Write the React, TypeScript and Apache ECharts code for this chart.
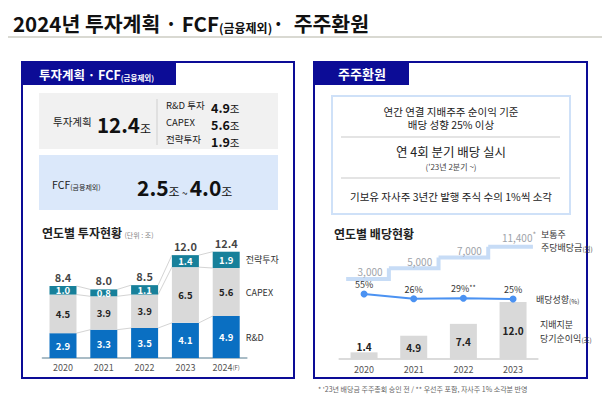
import React, { useEffect, useRef } from 'react';
import * as echarts from 'echarts';

// ---------- data ----------
const invYears = ['2020', '2021', '2022', '2023', '2024'];
const invYearSuffix = ['', '', '', '', '(F)'];
const seriesNames = ['R&D', 'CAPEX', '전략투자'];
const rdValues = [2.9, 3.3, 3.5, 4.1, 4.9];
const capexValues = [4.5, 3.9, 3.9, 6.5, 5.6];
const strategicValues = [1.0, 0.8, 1.1, 1.4, 1.9];
const invTotals = [8.4, 8.0, 8.5, 12.0, 12.4];

const divYears = ['2020', '2021', '2022', '2023'];
const netIncome = [1.4, 4.9, 7.4, 12.0];
const payoutRatio = [55, 26, 29, 25];
const payoutNotes = ['', '', '**', ''];
const dpsLevels = ['3,000', '5,000', '7,000', '11,400'];
const dpsValues = ['3,000', '5,000', '7,000', '11,400'];
const dpsNotes = ['', '', '', '*'];

const FONT = '"Noto Sans CJK KR", "Noto Sans", sans-serif';
const NAVY = '#0c0c96';
const BLUE = '#0a6fc2';
const GRAY = '#d9d9d9';
const TEAL = '#17809a';

function txt(x: number, y: number, text: string, style: any = {}) {
  const align = style.align || 'left';
  const va = style.verticalAlign || 'middle';
  return {
    type: 'text',
    x,
    y,
    z: 10,
    style: {
      text,
      fill: '#222',
      fontSize: 11,
      fontFamily: FONT,
      ...style,
      align,
      textAlign: align,
      verticalAlign: va,
      textVerticalAlign: va,
    },
  };
}

function hline(x1: number, x2: number, y: number, stroke: string, lineWidth = 1) {
  return { type: 'line', z: 5, shape: { x1, y1: y, x2, y2: y }, style: { stroke, lineWidth } };
}

const App: React.FC = () => {
  const ref = useRef<HTMLDivElement>(null);

  useEffect(() => {
    if (!ref.current) return;
    const chart = echarts.init(ref.current, undefined, { renderer: 'svg' });

    const levels = invYears.map((_, i) => [
      rdValues[i],
      rdValues[i] + capexValues[i],
      rdValues[i] + capexValues[i] + strategicValues[i],
    ]);
    const half = 13.5;

    const graphic: any[] = [
      // title
      txt(13, 20, '', {
        text: '{a|2024년 투자계획 · FCF}{b|(금융제외)}{a|·  주주환원}',
        rich: {
          a: { fontSize: 20.5, fontWeight: 'bold', fontFamily: FONT, fill: '#111', lineHeight: 26, verticalAlign: 'bottom' },
          b: { fontSize: 12, fontWeight: 'bold', fontFamily: FONT, fill: '#111', lineHeight: 20, verticalAlign: 'bottom' },
        },
      }),
      hline(8, 602, 37, '#d9d9d2', 2),

      // left panel
      { type: 'rect', z: 0, shape: { x: 22, y: 62, width: 272, height: 316 }, style: { fill: '#fff', stroke: NAVY, lineWidth: 2 } },
      { type: 'rect', z: 1, shape: { x: 21, y: 61, width: 155, height: 24 }, style: { fill: NAVY } },
      txt(39, 73, '', {
        text: '{a|투자계획 · FCF}{b|(금융제외)}',
        rich: {
          a: { fontSize: 12.5, fontWeight: 'bold', fill: '#fff', fontFamily: FONT, lineHeight: 16, verticalAlign: 'bottom' },
          b: { fontSize: 7.5, fontWeight: 'bold', fill: '#fff', fontFamily: FONT, lineHeight: 12, verticalAlign: 'bottom' },
        },
      }),
      { type: 'rect', z: 1, shape: { x: 39, y: 93, width: 239, height: 56 }, style: { fill: '#f1f1f1' } },
      { type: 'line', z: 5, shape: { x1: 157, y1: 99, x2: 157, y2: 145 }, style: { stroke: '#cfcfcf', lineWidth: 1 } },
      txt(53, 121, '투자계획', { fontSize: 10.5 }),
      txt(97, 122, '', {
        text: '{a|12.4}{b|조}',
        rich: {
          a: { fontSize: 20.5, fontWeight: 'bold', fill: '#111', fontFamily: FONT, lineHeight: 24, verticalAlign: 'bottom' },
          b: { fontSize: 12, fill: '#111', fontFamily: FONT, lineHeight: 17, verticalAlign: 'bottom' },
        },
      }),
      txt(166, 105, 'R&D 투자', { fontSize: 9.5 }),
      txt(166, 122, 'CAPEX', { fontSize: 9.5 }),
      txt(166, 139, '전략투자', { fontSize: 9.5 }),
      ...[['4.9', 105], ['5.6', 122], ['1.9', 139]].map(([v, y]) =>
        txt(211, (y as number) + 1, '', {
          text: `{a|${v}}{b|조}`,
          rich: {
            a: { fontSize: 12.5, fontWeight: 'bold', fill: '#111', fontFamily: FONT, lineHeight: 16, verticalAlign: 'bottom' },
            b: { fontSize: 10.5, fill: '#111', fontFamily: FONT, lineHeight: 15, verticalAlign: 'bottom' },
          },
        })
      ),
      { type: 'rect', z: 1, shape: { x: 39, y: 155, width: 239, height: 55 }, style: { fill: '#dbe8fa' } },
      txt(52, 183, '', {
        text: '{a|FCF}{b|(금융제외)}',
        rich: {
          a: { fontSize: 10.5, fill: '#222', fontFamily: FONT, lineHeight: 14, verticalAlign: 'bottom' },
          b: { fontSize: 7, fill: '#222', fontFamily: FONT, lineHeight: 11, verticalAlign: 'bottom' },
        },
      }),
      txt(137, 185, '', {
        text: '{a|2.5}{b|조}{c| ~ }{a|4.0}{b|조}',
        rich: {
          a: { fontSize: 21, fontWeight: 'bold', fill: '#111', fontFamily: FONT, lineHeight: 25, verticalAlign: 'bottom' },
          b: { fontSize: 12, fill: '#111', fontFamily: FONT, lineHeight: 17, verticalAlign: 'bottom' },
          c: { fontSize: 10, fill: '#111', fontFamily: FONT, lineHeight: 16, verticalAlign: 'bottom' },
        },
      }),
      txt(42, 231, '', {
        text: '{a|연도별 투자현황} {b|(단위 : 조)}',
        rich: {
          a: { fontSize: 12, fontWeight: 'bold', fill: '#222', fontFamily: FONT, lineHeight: 15, verticalAlign: 'bottom' },
          b: { fontSize: 7, fill: '#888', fontFamily: FONT, lineHeight: 11, verticalAlign: 'bottom' },
        },
      }),

      // right panel
      { type: 'rect', z: 0, shape: { x: 314, y: 62, width: 273, height: 316 }, style: { fill: '#fff', stroke: NAVY, lineWidth: 2 } },
      { type: 'rect', z: 1, shape: { x: 313, y: 61, width: 96, height: 24 }, style: { fill: NAVY } },
      txt(338, 73, '주주환원', { fontSize: 13, fontWeight: 'bold', fill: '#fff' }),
      { type: 'rect', z: 1, shape: { x: 332, y: 96, width: 238, height: 118 }, style: { fill: '#fff', stroke: '#cfe1f8', lineWidth: 2 } },
      txt(451, 111, '연간 연결 지배주주 순이익 기준', { fontSize: 10.5, align: 'center' }),
      txt(451, 124, '배당 성향 25% 이상', { fontSize: 10.5, align: 'center' }),
      hline(341, 560, 137, '#c9c9c9', 1),
      txt(451, 151, '연 4회 분기 배당 실시', { fontSize: 12.5, align: 'center' }),
      txt(451, 166, "('23년 2분기 ~)", { fontSize: 8, align: 'center', fill: '#444' }),
      hline(341, 560, 178, '#c9c9c9', 1),
      txt(451, 196, '기보유 자사주 3년간 발행 주식 수의 1%씩 소각', { fontSize: 10.5, align: 'center' }),
      txt(334, 233, '연도별 배당현황', { fontSize: 12, fontWeight: 'bold', fill: '#222' }),
      txt(541, 234, '보통주', { fontSize: 9, fill: '#333' }),
      txt(541, 246, '', {
        text: '{a|주당배당금}{b|(원)}',
        rich: {
          a: { fontSize: 9, fill: '#333', fontFamily: FONT, lineHeight: 12, verticalAlign: 'bottom' },
          b: { fontSize: 6.5, fill: '#333', fontFamily: FONT, lineHeight: 10, verticalAlign: 'bottom' },
        },
      }),
      txt(536, 298, '', {
        text: '{a|배당성향}{b|(%)}',
        rich: {
          a: { fontSize: 9, fill: '#333', fontFamily: FONT, lineHeight: 12, verticalAlign: 'bottom' },
          b: { fontSize: 6.5, fill: '#333', fontFamily: FONT, lineHeight: 10, verticalAlign: 'bottom' },
        },
      }),
      txt(540, 324, '지배지분', { fontSize: 9, fill: '#333' }),
      txt(540, 337, '', {
        text: '{a|당기순이익}{b|(조)}',
        rich: {
          a: { fontSize: 9, fill: '#333', fontFamily: FONT, lineHeight: 12, verticalAlign: 'bottom' },
          b: { fontSize: 6.5, fill: '#333', fontFamily: FONT, lineHeight: 10, verticalAlign: 'bottom' },
        },
      }),
      txt(318, 389, "* '23년 배당금 주주총회 승인 전 / ** 우선주 포함, 자사주 1% 소각분 반영", { fontSize: 7, fill: '#666' }),
    ];

    const axisLabelBase = { fontSize: 9, color: '#555', fontFamily: FONT };
    const segLabel = { show: true, position: 'inside', fontSize: 9.5, fontWeight: 'bold', fontFamily: FONT, lineHeight: 9, formatter: (p: any) => p.value.toFixed(1) };

    const option: any = {
      animation: false,
      graphic,
      grid: [
        { left: 42.6, top: 238, width: 204, height: 120 },
        { left: 339.2, top: 292.5, width: 198.7, height: 66.5 },
        { left: 339.2, top: 290, width: 198.7, height: 14 },
        { left: 339.2, top: 241.5, width: 198.7, height: 42.8 },
      ],
      xAxis: [
        {
          gridIndex: 0, type: 'category', data: invYears,
          axisLine: { lineStyle: { color: '#a9bcc6', width: 2 } },
          axisTick: { show: false },
          axisLabel: {
            ...axisLabelBase, margin: 5, interval: 0,
            formatter: (v: string, i: number) => (invYearSuffix[i] ? `${v}{s|${invYearSuffix[i]}}` : v),
            rich: { s: { fontSize: 6, color: '#555', fontFamily: FONT } },
          },
        },
        {
          gridIndex: 1, type: 'category', data: divYears,
          axisLine: { lineStyle: { color: '#cfcfcf', width: 1.5 } },
          axisTick: { show: false },
          axisLabel: { ...axisLabelBase, margin: 6, interval: 0 },
        },
        { gridIndex: 2, type: 'category', data: divYears, show: false },
        { gridIndex: 3, type: 'category', data: divYears, show: false },
      ],
      yAxis: [
        { gridIndex: 0, type: 'value', min: 0, max: 14, show: false },
        { gridIndex: 1, type: 'value', min: 0, max: 14, show: false },
        { gridIndex: 2, type: 'value', min: -5, max: 79, show: false },
        { gridIndex: 3, type: 'category', data: dpsLevels, show: false },
      ],
      series: [
        {
          name: seriesNames[0], type: 'bar', stack: 'inv', xAxisIndex: 0, yAxisIndex: 0, barWidth: 27,
          data: rdValues, itemStyle: { color: BLUE },
          label: { ...segLabel, color: '#fff' },
        },
        {
          name: seriesNames[1], type: 'bar', stack: 'inv', xAxisIndex: 0, yAxisIndex: 0, barWidth: 27,
          data: capexValues, itemStyle: { color: GRAY },
          label: { ...segLabel, color: '#222' },
        },
        {
          name: seriesNames[2], type: 'bar', stack: 'inv', xAxisIndex: 0, yAxisIndex: 0, barWidth: 27,
          data: strategicValues, itemStyle: { color: TEAL },
          label: { ...segLabel, color: '#fff' },
        },
        {
          type: 'scatter', xAxisIndex: 0, yAxisIndex: 0, symbolSize: 0, data: invTotals, z: 5,
          label: { show: true, position: 'top', distance: 3.5, color: '#111', fontSize: 11, fontWeight: 'bold', fontFamily: FONT, lineHeight: 11, formatter: (p: any) => p.value.toFixed(1) },
        },
        {
          type: 'custom', xAxisIndex: 0, yAxisIndex: 0, z: 1, clip: false,
          data: invYears.map((_, i) => [i]),
          renderItem: (params: any, api: any) => {
            const i = params.dataIndex;
            const children: any[] = [];
            if (i < invYears.length - 1) {
              for (let k = 0; k < 3; k++) {
                const a = api.coord([i, levels[i][k]]);
                const b = api.coord([i + 1, levels[i + 1][k]]);
                children.push({
                  type: 'line',
                  shape: { x1: a[0] + half, y1: a[1], x2: b[0] - half, y2: b[1] },
                  style: { stroke: '#d4d4d4', lineWidth: 1 },
                });
              }
            } else {
              const vals = [rdValues[i], capexValues[i], strategicValues[i]];
              for (let k = 0; k < 3; k++) {
                const base = k === 0 ? 0 : levels[i][k - 1];
                const c = api.coord([i, base + vals[k] / 2]);
                children.push({
                  type: 'text', x: c[0] + half + 6, y: c[1],
                  style: { text: seriesNames[k], fill: '#333', fontSize: 9, fontFamily: FONT, align: 'left', verticalAlign: 'middle' },
                });
              }
            }
            return { type: 'group', children };
          },
        },
        {
          type: 'bar', xAxisIndex: 1, yAxisIndex: 1, barWidth: 27,
          data: netIncome.map((v) => (v < 3 ? { value: v, label: { position: 'top', distance: 1 } } : v)),
          itemStyle: { color: GRAY },
          label: { show: true, position: 'inside', color: '#222', fontSize: 10, fontWeight: 'bold', fontFamily: FONT, formatter: (p: any) => p.value.toFixed(1) },
        },
        {
          type: 'line', xAxisIndex: 2, yAxisIndex: 2, data: payoutRatio,
          symbol: 'circle', symbolSize: 7,
          lineStyle: { color: '#4b92f2', width: 2 }, itemStyle: { color: '#4b92f2' },
          label: {
            show: true, position: 'top', distance: 1, color: '#333', fontSize: 9, fontFamily: FONT, lineHeight: 10,
            formatter: (p: any) => `${p.value}%` + (payoutNotes[p.dataIndex] ? `{s|${payoutNotes[p.dataIndex]}}` : ''),
            rich: { s: { fontSize: 7, color: '#333', fontFamily: FONT, padding: [0, 0, 4, 0] } },
          },
        },
        {
          type: 'custom', xAxisIndex: 3, yAxisIndex: 3, clip: false, z: 1,
          data: dpsValues.map((v, i) => [i, dpsLevels.indexOf(v)]),
          renderItem: (params: any, api: any) => {
            const i = params.dataIndex;
            const n = dpsValues.length;
            const p = api.coord([api.value(0), api.value(1)]);
            const w = api.size([1, 0])[0];
            const x0 = i === 0 ? p[0] - w * 0.36 : p[0] - w / 2;
            const x1 = i === n - 1 ? p[0] + w * 0.4 : p[0] + w / 2;
            const pts: number[][] = [[x0, p[1]], [x1, p[1]]];
            if (i < n - 1) {
              const q = api.coord([i + 1, dpsLevels.indexOf(dpsValues[i + 1])]);
              pts.push([x1, q[1]]);
            }
            return {
              type: 'group',
              children: [
                { type: 'polyline', shape: { points: pts }, style: { stroke: '#c7dcf6', lineWidth: 4, fill: null, lineJoin: 'miter' } },
                {
                  type: 'text', x: p[0] + 6, y: p[1] - 2,
                  style: {
                    text: dpsValues[i] + (dpsNotes[i] ? `{s|${dpsNotes[i]}}` : ''),
                    rich: { s: { fontSize: 8, fill: '#999', fontFamily: FONT, padding: [0, 0, 6, 0] } },
                    fill: '#9ea3aa', fontSize: 10, fontFamily: FONT, align: 'center', verticalAlign: 'bottom',
                  },
                },
              ],
            };
          },
        },
      ],
    };

    chart.setOption(option);
    return () => chart.dispose();
  }, []);

  return <div ref={ref} style={{ position: 'absolute', left: 0, top: 0, width: 602, height: 395 }} />;
};

export default App;
